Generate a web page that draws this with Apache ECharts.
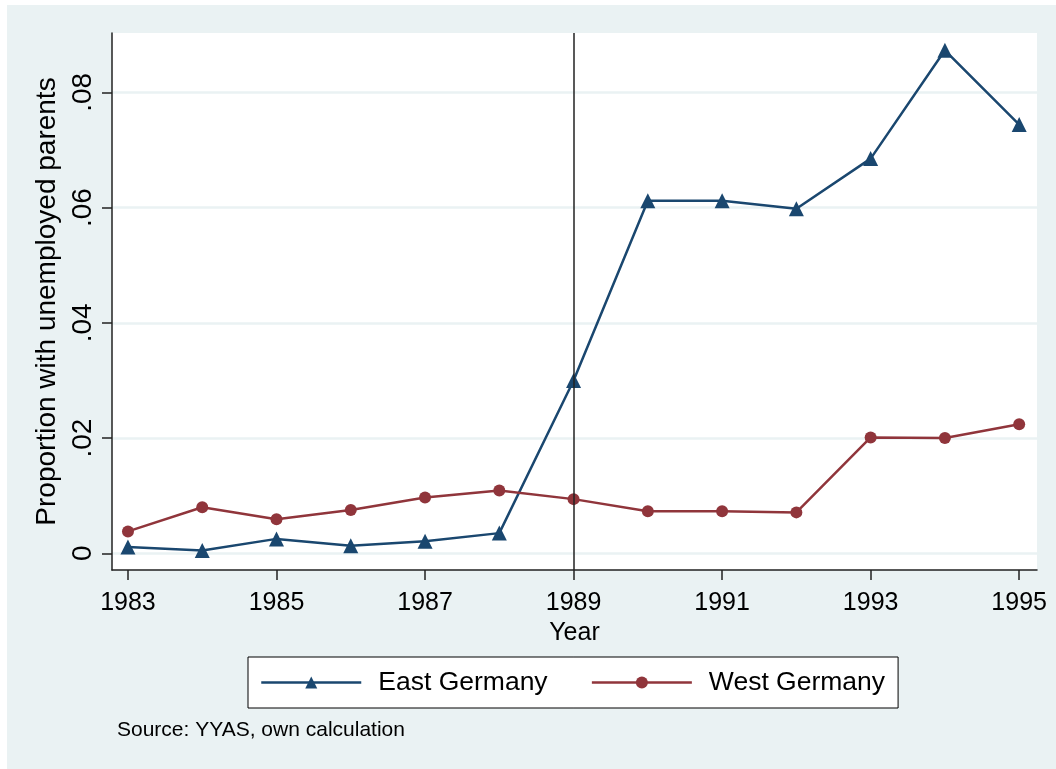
<!DOCTYPE html>
<html>
<head>
<meta charset="utf-8">
<script src="https://cdn.jsdelivr.net/npm/echarts@6/dist/echarts.min.js"></script>
<style>
  html, body { margin: 0; padding: 0; background: #fff; }
  #main { width: 1056px; height: 769px; }
</style>
</head>
<body>
<div id="main"></div>
<script>
// 数据
var years = [1983, 1984, 1985, 1986, 1987, 1988, 1989, 1990, 1991, 1992, 1993, 1994, 1995];
var eastGermany = [0.0011, 0.0005, 0.0025, 0.0013, 0.0021, 0.0035, 0.0300, 0.0612, 0.0612, 0.0598, 0.0685, 0.0873, 0.0744];
var westGermany = [0.0038, 0.0080, 0.0059, 0.0075, 0.0097, 0.0109, 0.0094, 0.0073, 0.0073, 0.0071, 0.0201, 0.0200, 0.0224];
var xTicks = [1983, 1985, 1987, 1989, 1991, 1993, 1995];
var yTicks = [0, 0.02, 0.04, 0.06, 0.08];
var markYear = 1989;

var bg = '#EAF2F3';
var fontFam = '"Liberation Sans", Arial, sans-serif';

function pairs(xs, ys){
	var out = [];
	for(var i=0;i<xs.length;i++){
		out.push([xs[i], ys[i]]);
	}
	return out;
}

var myChart = echarts.init(document.getElementById('main'));

var option = {
	backgroundColor: bg,
	animation: false,
	textStyle: { fontFamily: fontFam },
	title: {
		text: 'Source: YYAS, own calculation',
		left: 117,
		top: 720,
		padding: 0,
		textStyle: { fontFamily: fontFam, fontSize: 21, fontWeight: 'normal', color: '#000' }
	},
	graphic: [
		// 白边
		{ type: 'rect', left: 0, top: 0, shape: { width: 1056, height: 5 }, style: { fill: '#fff' }, silent: true },
		{ type: 'rect', left: 0, top: 0, shape: { width: 7, height: 769 }, style: { fill: '#fff' }, silent: true }
	],
	legend: {
		left: 248,
		top: 657,
		orient: 'horizontal',
		backgroundColor: '#fff',
		borderColor: '#000',
		borderWidth: 1,
		padding: [12, 13, 12, 12],
		itemWidth: 100,
		itemHeight: 15,
		itemGap: 43,
		lineStyle: { width: 2.5 },
		textStyle: { fontFamily: fontFam, fontSize: 26.5, color: '#000', padding: [0, 0, 0, 12] },
		data: ['East Germany', 'West Germany']
	},
	grid: {
		left: 112,
		top: 33,
		width: 925,
		height: 537,
		show: true,
		backgroundColor: '#fff',
		borderWidth: 0
	},
	xAxis: {
		type: 'value',
		min: 1982.785,
		max: 1995.24,
		name: 'Year',
		nameLocation: 'middle',
		nameGap: 44,
		nameTextStyle: { fontFamily: fontFam, fontSize: 25, color: '#000' },
		axisLine: { show: true, onZero: false, lineStyle: { color: '#222', width: 1.5 } },
		axisTick: { show: true, length: 10, customValues: xTicks, lineStyle: { color: '#222', width: 1.5 } },
		axisLabel: {
			customValues: xTicks,
			margin: 21,
			fontFamily: fontFam,
			fontSize: 25,
			color: '#000',
			formatter: function(v){ return String(v); }
		},
		splitLine: { show: false }
	},
	yAxis: {
		type: 'value',
		min: -0.0029,
		max: 0.0903,
		name: 'Proportion with unemployed parents',
		nameLocation: 'middle',
		nameGap: 42,
		nameTextStyle: { fontFamily: fontFam, fontSize: 28, color: '#000' },
		axisLine: { show: true, onZero: false, lineStyle: { color: '#222', width: 1.5 } },
		axisTick: { show: true, length: 10, customValues: yTicks, lineStyle: { color: '#222', width: 1.5 } },
		axisLabel: {
			customValues: yTicks,
			rotate: 90,
			margin: 15,
			fontFamily: fontFam,
			fontSize: 28,
			color: '#000',
			formatter: function(v){
				if(v === 0) return '0';
				return String(Math.round(v*100)/100).replace(/^0/, '');
			}
		},
		splitLine: { show: true, lineStyle: { color: bg, width: 2.5 } }
	},
	series: [
		{
			name: 'East Germany',
			type: 'line',
			data: pairs(years, eastGermany),
			symbol: 'triangle',
			symbolSize: 15,
			lineStyle: { color: '#1a476f', width: 2.5 },
			itemStyle: { color: '#1a476f' },
			markLine: {
				silent: true,
				symbol: 'none',
				label: { show: false },
				lineStyle: { color: '#222', width: 1.5, type: 'solid' },
				data: [{ xAxis: markYear }]
			}
		},
		{
			name: 'West Germany',
			type: 'line',
			data: pairs(years, westGermany),
			symbol: 'circle',
			symbolSize: 12,
			lineStyle: { color: '#90353b', width: 2.5 },
			itemStyle: { color: '#90353b' }
		}
	]
};

myChart.setOption(option);
</script>
</body>
</html>
